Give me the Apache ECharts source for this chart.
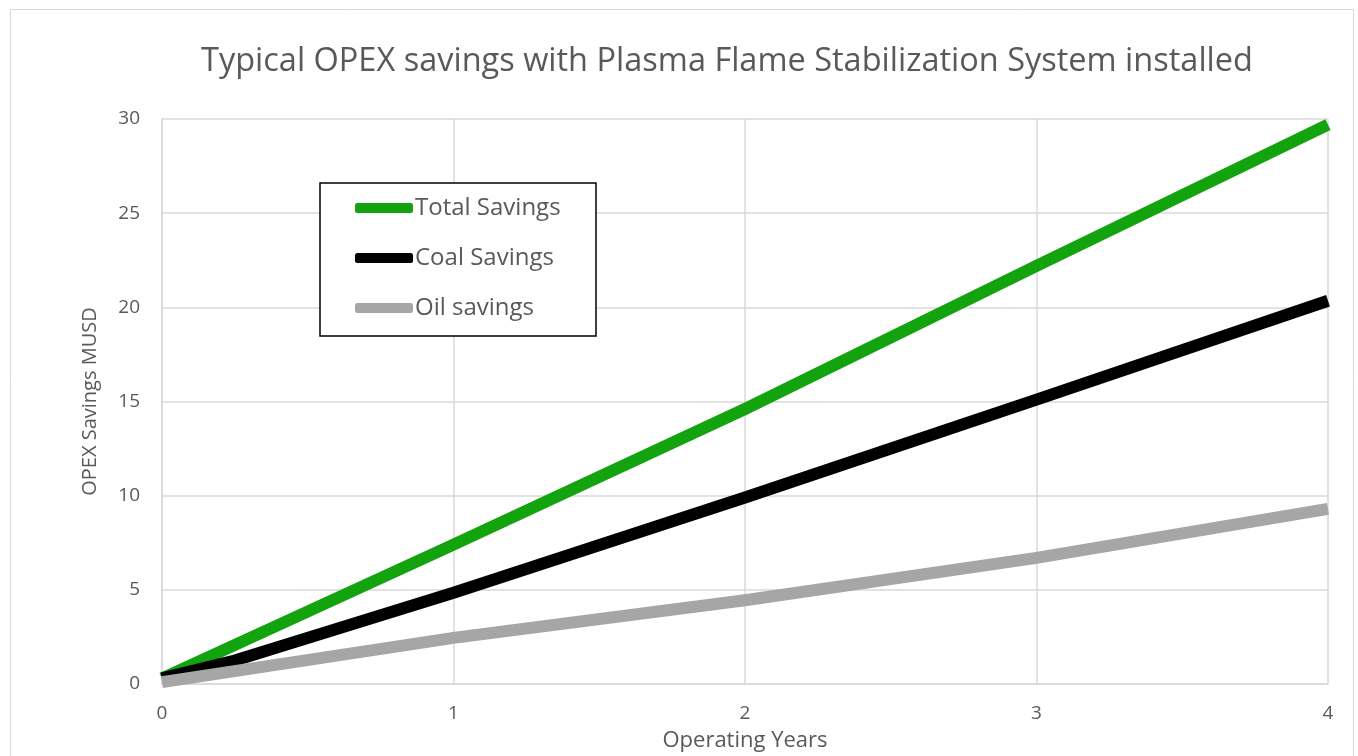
<!DOCTYPE html>
<html>
<head>
<meta charset="utf-8">
<script src="https://cdn.jsdelivr.net/npm/echarts@6/dist/echarts.min.js"></script>
<style>
  html, body { margin: 0; padding: 0; background: #fff; }
  #chart { width: 1358px; height: 756px; }
</style>
</head>
<body>
<div id="chart"></div>
<script>
// values
const titleText = 'Typical OPEX savings with Plasma Flame Stabilization System installed'
const seriesNames = ['Total Savings', 'Coal Savings', 'Oil savings']
const totalYears = [0, 1, 2, 3, 4]
const totalSavings = [0.3, 7.4, 14.6, 22.2, 29.7]
const coalYears = [0, 0.25, 1, 2, 3, 4]
const coalSavings = [0.3, 1.25, 4.85, 9.9, 15.1, 20.35]
const oilYears = [0, 1, 2, 3, 4]
const oilSavings = [0.1, 2.45, 4.45, 6.7, 9.3]

const colors = ['#12a30e', '#000000', '#a6a6a6']
const font = '"Open Sans", "Noto Sans", sans-serif'
const grey = '#595959'

function pairs(xs, ys) {
  return xs.map((x, i) => [x, ys[i]])
}

const chart = echarts.init(document.getElementById('chart'))

chart.setOption({
  animation: false,
  backgroundColor: '#fff',
  textStyle: { fontFamily: font },
  title: {
    text: titleText,
    left: 196,
    top: 40,
    textStyle: { fontFamily: font, fontSize: 32.5, fontWeight: 'normal', color: grey },
  },
  graphic: [{
    type: 'rect',
    shape: { x: 10.5, y: 9.5, width: 1343, height: 760 },
    style: { fill: 'none', stroke: '#d9d9d9', lineWidth: 1 },
    silent: true,
    z: -1,
  }],
  legend: {
    orient: 'vertical',
    left: 320,
    top: 183,
    padding: [11, 26, 14, 35],
    itemGap: 22,
    itemWidth: 58,
    itemHeight: 10,
    icon: 'roundRect',
    borderColor: '#000',
    borderWidth: 1.5,
    backgroundColor: '#fff',
    data: seriesNames,
    textStyle: { fontFamily: font, fontSize: 24, color: grey, width: 155, lineHeight: 28, padding: [0, 0, 0, -3] },
  },
  grid: { left: 162, right: 30, top: 119, bottom: 72, outerBoundsMode: 'none' },
  xAxis: {
    type: 'value',
    min: 0,
    max: 4,
    interval: 1,
    name: 'Operating Years',
    nameLocation: 'middle',
    nameGap: 46,
    nameTextStyle: { fontFamily: font, fontSize: 22, color: grey },
    axisLine: { lineStyle: { color: '#d9d9d9', width: 1.5 } },
    axisTick: { show: false },
    axisLabel: { fontFamily: font, fontSize: 19, color: grey, margin: 20 },
    splitLine: { lineStyle: { color: '#d9d9d9', width: 1.5 } },
  },
  yAxis: {
    type: 'value',
    min: 0,
    max: 30,
    interval: 5,
    name: 'OPEX Savings MUSD',
    nameLocation: 'middle',
    nameGap: 62,
    nameTextStyle: { fontFamily: font, fontSize: 20, color: grey },
    axisLine: { show: true, lineStyle: { color: '#d9d9d9', width: 1.5 } },
    axisTick: { show: false },
    axisLabel: { fontFamily: font, fontSize: 19, color: grey, margin: 22 },
    splitLine: { lineStyle: { color: '#d9d9d9', width: 1.5 } },
  },
  series: [
    { name: seriesNames[0], data: pairs(totalYears, totalSavings), color: colors[0] },
    { name: seriesNames[1], data: pairs(coalYears, coalSavings), color: colors[1] },
    { name: seriesNames[2], data: pairs(oilYears, oilSavings), color: colors[2] },
  ].map(s => ({
    type: 'line',
    name: s.name,
    data: s.data,
    showSymbol: false,
    symbol: 'none',
    clip: false,
    itemStyle: { color: s.color },
    lineStyle: { color: s.color, width: 12, cap: 'butt', join: 'miter' },
  })),
})
</script>
</body>
</html>
